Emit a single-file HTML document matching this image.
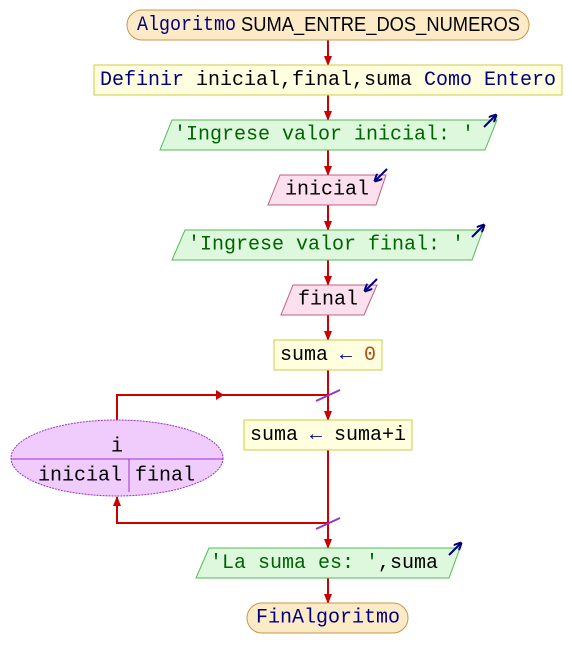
<!DOCTYPE html>
<html><head><meta charset="utf-8"><style>
html,body{margin:0;padding:0;background:#fff;}
svg{display:block;}
text{font-family:"Liberation Mono","DejaVu Sans Mono",monospace;font-size:20px;dominant-baseline:central;text-anchor:middle;}
.k{fill:#000080}.s{fill:#006400}.n{fill:#b0501a}.b{fill:#000}
</style></head><body>
<svg width="572" height="668" viewBox="0 0 572 668" xmlns="http://www.w3.org/2000/svg">
<defs>
<marker id="ar" markerWidth="10" markerHeight="8" refX="9" refY="4" orient="auto" markerUnits="userSpaceOnUse">
<path d="M0,0 L10,4 L0,8 z" fill="#cc0000"/></marker>
<marker id="ai" markerWidth="8" markerHeight="8" refX="7" refY="4" orient="auto" markerUnits="userSpaceOnUse">
<path d="M0,0 L8,4 L0,8" fill="none" stroke="#000080" stroke-width="2"/></marker>
</defs>
<g stroke="#cc0000" stroke-width="2" fill="none">
<line x1="328" y1="40" x2="328" y2="65" marker-end="url(#ar)"/>
<line x1="328" y1="95" x2="328" y2="120" marker-end="url(#ar)"/>
<line x1="328" y1="150" x2="328" y2="175" marker-end="url(#ar)"/>
<line x1="328" y1="205" x2="328" y2="230" marker-end="url(#ar)"/>
<line x1="328" y1="260" x2="328" y2="285" marker-end="url(#ar)"/>
<line x1="328" y1="315" x2="328" y2="340" marker-end="url(#ar)"/>
<line x1="328" y1="370" x2="328" y2="420" marker-end="url(#ar)"/>
<line x1="328" y1="450" x2="328" y2="548" marker-end="url(#ar)"/>
<line x1="328" y1="578" x2="328" y2="603" marker-end="url(#ar)"/>
<polyline points="117,420 117,395 328,395"/>
<polyline points="328,523 117,523 117,497" marker-end="url(#ar)"/>
</g>
<path d="M216,390 L224,395 L216,400z" fill="#cc0000"/>
<line x1="316" y1="401" x2="340" y2="390" stroke="#9933cc" stroke-width="2"/>
<line x1="316" y1="529" x2="340" y2="518" stroke="#9933cc" stroke-width="2"/>

<rect x="127" y="10" width="402" height="30" rx="15" fill="#fdebc8" stroke="#c8964a"/>
<text x="137" y="25" style="text-anchor:start" textLength="383" lengthAdjust="spacingAndGlyphs"><tspan class="k">Algoritmo</tspan><tspan class="b" style="font-family:'Liberation Sans','DejaVu Sans',sans-serif"> SUMA_ENTRE_DOS_NUMEROS</tspan></text>

<rect x="94" y="65" width="468" height="30" fill="#ffffe0" stroke="#cccc44"/>
<text x="328" y="80"><tspan class="k">Definir</tspan><tspan class="b"> inicial,final,suma </tspan><tspan class="k">Como Entero</tspan></text>

<polygon points="172,120 497,120 485,150 160,150" fill="#ddf8dd" stroke="#55bb55"/>
<text x="324" y="135" class="s">'Ingrese valor inicial: '</text>
<line x1="484" y1="127" x2="496" y2="115" stroke="#000080" stroke-width="2" marker-end="url(#ai)"/>

<polygon points="280,175 386,175 376,205 268,205" fill="#fde0ee" stroke="#c06080"/>
<text x="327" y="190" class="b">inicial</text>
<line x1="387" y1="169" x2="375" y2="181" stroke="#000080" stroke-width="2" marker-end="url(#ai)"/>

<polygon points="185,230 483,230 472,260 172,260" fill="#ddf8dd" stroke="#55bb55"/>
<text x="326" y="245" class="s">'Ingrese valor final: '</text>
<line x1="472" y1="237" x2="484" y2="225" stroke="#000080" stroke-width="2" marker-end="url(#ai)"/>

<polygon points="293,285 377,285 364,315 281,315" fill="#fde0ee" stroke="#c06080"/>
<text x="328" y="300" class="b">final</text>
<line x1="377" y1="279" x2="365" y2="291" stroke="#000080" stroke-width="2" marker-end="url(#ai)"/>

<rect x="274" y="340" width="108" height="30" fill="#ffffe0" stroke="#cccc44"/>
<text x="328" y="355"><tspan class="b">suma </tspan><tspan class="k">←</tspan><tspan class="n"> 0</tspan></text>

<rect x="244" y="420" width="168" height="30" fill="#ffffe0" stroke="#cccc44"/>
<text x="328" y="435"><tspan class="b">suma </tspan><tspan class="k">←</tspan><tspan class="b"> suma+i</tspan></text>

<ellipse cx="117" cy="458" rx="106" ry="38" fill="#f0ccfc" stroke="#9933cc" stroke-dasharray="2,1"/>
<line x1="11" y1="459" x2="223" y2="459" stroke="#9933cc"/>
<line x1="129" y1="459" x2="129" y2="492" stroke="#9933cc"/>
<text x="117" y="447" class="b">i</text>
<text x="80" y="476" class="b">inicial</text>
<text x="165" y="476" class="b">final</text>

<polygon points="209,548 460,548 449,578 196,578" fill="#ddf8dd" stroke="#55bb55"/>
<text x="324" y="563"><tspan class="s">'La suma es: '</tspan><tspan class="b">,suma</tspan></text>
<line x1="449" y1="555" x2="461" y2="543" stroke="#000080" stroke-width="2" marker-end="url(#ai)"/>

<rect x="247" y="603" width="161" height="30" rx="15" fill="#fdebc8" stroke="#c8964a"/>
<text x="328" y="618" class="k">FinAlgoritmo</text>
</svg>
</body></html>
